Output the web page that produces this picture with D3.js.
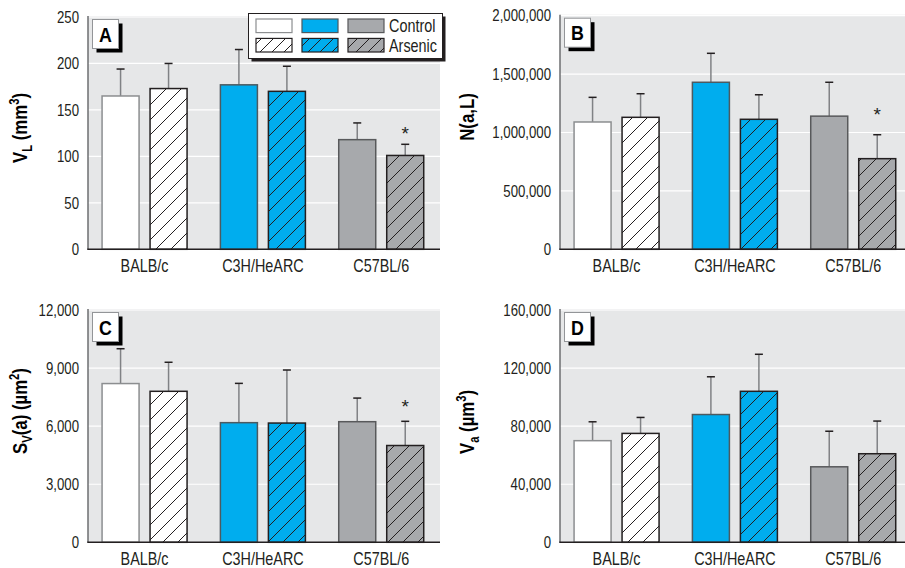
<!DOCTYPE html>
<html>
<head>
<meta charset="utf-8">
<script src="https://cdn.jsdelivr.net/npm/d3@7"></script>
<style>
  html, body { margin: 0; padding: 0; background: #fff; }
  svg { display: block; font-family: "Liberation Sans", Arial, sans-serif; }
</style>
</head>
<body>
<svg id="chart" width="905" height="568"></svg>
<script>
// Mouse strains and treatment groups
const strains = ["BALB/c", "C3H/HeARC", "C57BL/6"];
const groups = ["Control", "Arsenic"];

// A: lung volume V_L (mm^3), mean and SD per strain
const vlControl = [165, 177, 118];
const vlControlSD = [29, 38, 18];
const vlArsenic = [173, 170, 101];
const vlArsenicSD = [27, 27, 12];
const vlTicks = [0, 50, 100, 150, 200, 250];

// B: number of alveoli N(a,L)
const nControl = [1090000, 1430000, 1140000];
const nControlSD = [211000, 248000, 290000];
const nArsenic = [1130000, 1113000, 776000];
const nArsenicSD = [202000, 210000, 205000];
const nTicks = [0, 500000, 1000000, 1500000, 2000000];

// C: alveolar surface area S_V(a) (µm^2)
const svControl = [8200, 6180, 6230];
const svControlSD = [1800, 2030, 1220];
const svArsenic = [7800, 6160, 5000];
const svArsenicSD = [1500, 2740, 1250];
const svTicks = [0, 3000, 6000, 9000, 12000];

// D: mean alveolar volume V_a (µm^3)
const vaControl = [70000, 88000, 52000];
const vaControlSD = [13000, 26000, 24500];
const vaArsenic = [75000, 104000, 61000];
const vaArsenicSD = [11000, 25500, 22500];
const vaTicks = [0, 40000, 80000, 120000, 160000];

// Significant arsenic effect (*), per panel and strain
const sigA = [false, false, true];
const sigB = [false, false, true];
const sigC = [false, false, true];
const sigD = [false, false, false];

const strainFill = { "BALB/c": "#ffffff", "C3H/HeARC": "#00adee", "C57BL/6": "#a7a9ac" };
const strainEdge = { "BALB/c": "#8c8e90", "C3H/HeARC": "#4d5a60", "C57BL/6": "#58595b" };

const svg = d3.select("#chart");
const fmt = d3.format(",");
const SX = 0.8; // horizontal squeeze for a condensed look

// Move a text's x/y into a transform and squeeze it horizontally
function narrow(sel, sx = SX, extra = "") {
  sel.each(function () {
    const t = d3.select(this);
    const x = +t.attr("x") || 0, y = +t.attr("y") || 0;
    t.attr("x", 0).attr("y", 0)
      .attr("transform", `translate(${x},${y}) ${extra} scale(${sx},1)`);
  });
}

// Hatching patterns (one per strain colour)
const defs = svg.append("defs");
strains.forEach((s, i) => {
  const p = defs.append("pattern")
    .attr("id", "hatch" + i)
    .attr("patternUnits", "userSpaceOnUse")
    .attr("width", 15).attr("height", 15);
  p.append("rect").attr("width", 15).attr("height", 15).attr("fill", strainFill[s]);
  p.append("path")
    .attr("d", "M-1,16 L16,-1 M-4,4 L4,-4 M11,19 L19,11")
    .attr("stroke", "#231f20").attr("stroke-width", 1);
});
strains.forEach((s, i) => {
  const p = defs.append("pattern")
    .attr("id", "lhatch" + i)
    .attr("patternUnits", "userSpaceOnUse")
    .attr("width", 12).attr("height", 12);
  p.append("rect").attr("width", 12).attr("height", 12).attr("fill", strainFill[s]);
  p.append("path")
    .attr("d", "M-1,13 L13,-1 M-3,3 L3,-3 M9,15 L15,9")
    .attr("stroke", "#231f20").attr("stroke-width", 1);
});

const panels = [
  { key: "A", ctrl: vlControl, ctrlSD: vlControlSD, ars: vlArsenic, arsSD: vlArsenicSD, ticks: vlTicks, sig: sigA,
    left: 88, right: 440, top: 17, bottom: 249.3, titleX: 27, titleY: 128, starGap: 4,
    title: [{ t: "V" }, { t: "L", sub: true }, { t: " (mm" }, { t: "3", sup: true }, { t: ")" }] },
  { key: "B", ctrl: nControl, ctrlSD: nControlSD, ars: nArsenic, arsSD: nArsenicSD, ticks: nTicks, sig: sigB,
    left: 560, right: 905, top: 15.7, bottom: 249.3, titleX: 474, titleY: 117, starGap: 14,
    title: [{ t: "N(a,L)" }] },
  { key: "C", ctrl: svControl, ctrlSD: svControlSD, ars: svArsenic, arsSD: svArsenicSD, ticks: svTicks, sig: sigC,
    left: 88, right: 440, top: 310, bottom: 542.3, titleX: 27, titleY: 411, starGap: 8,
    title: [{ t: "S" }, { t: "V", sub: true }, { t: "(a) (µm" }, { t: "2", sup: true }, { t: ")" }] },
  { key: "D", ctrl: vaControl, ctrlSD: vaControlSD, ars: vaArsenic, arsSD: vaArsenicSD, ticks: vaTicks, sig: sigD,
    left: 560, right: 905, top: 310, bottom: 542.3, titleX: 474, titleY: 422, starGap: 6,
    title: [{ t: "V" }, { t: "a", sub: true }, { t: " (µm" }, { t: "3", sup: true }, { t: ")" }] }
];

panels.forEach(P => {
  const g = svg.append("g");
  const y = d3.scaleLinear().domain([0, d3.max(P.ticks)]).range([P.bottom, P.top]);
  const x = d3.scaleBand().domain(strains).range([P.left - 2.6, P.left - 2.6 + 355]).padding(0);
  const xi = d3.scaleBand().domain(groups).range([-42.5, 42.5]).paddingInner(0.229).paddingOuter(0);

  // plot background
  g.append("rect")
    .attr("x", P.left).attr("y", P.top - 1)
    .attr("width", P.right - P.left).attr("height", P.bottom - P.top + 1)
    .attr("fill", "#e6e7e8");

  // white gridlines
  g.selectAll(".grid").data(P.ticks.slice(1)).join("line")
    .attr("x1", P.left).attr("x2", P.right)
    .attr("y1", d => y(d)).attr("y2", d => y(d))
    .attr("stroke", "#ffffff").attr("stroke-width", 1.2);

  // y axis
  const yAxis = d3.axisLeft(y).tickValues(P.ticks).tickFormat(fmt).tickSize(0).tickPadding(9);
  const ya = g.append("g").attr("transform", `translate(${P.left},0)`).call(yAxis);
  ya.select(".domain").remove();
  ya.attr("font-family", null).attr("font-size", null);
  ya.selectAll("text").attr("font-size", 16.5).attr("fill", "#231f20").call(narrow);

  // x axis labels
  const xAxis = d3.axisBottom(x).tickSize(0).tickPadding(10);
  const xa = g.append("g").attr("transform", `translate(0,${P.bottom})`).call(xAxis);
  xa.select(".domain").remove();
  xa.attr("font-family", null).attr("font-size", null);
  xa.selectAll("text").attr("font-size", 18).attr("fill", "#231f20").call(narrow);

  // bars
  const rows = [];
  strains.forEach((s, i) => {
    rows.push({ s, i, grp: "Control", v: P.ctrl[i], sd: P.ctrlSD[i], sig: false });
    rows.push({ s, i, grp: "Arsenic", v: P.ars[i], sd: P.arsSD[i], sig: P.sig[i] });
  });
  const bx = d => x(d.s) + x.bandwidth() / 2 + xi(d.grp);
  const cx = d => bx(d) + xi.bandwidth() / 2;

  // error bars (upper only)
  g.selectAll(".err").data(rows).join("line")
    .attr("x1", cx).attr("x2", cx)
    .attr("y1", d => y(d.v)).attr("y2", d => y(d.v + d.sd))
    .attr("stroke", "#808285").attr("stroke-width", 1.5);
  g.selectAll(".cap").data(rows).join("line")
    .attr("x1", d => cx(d) - 4).attr("x2", d => cx(d) + 4)
    .attr("y1", d => y(d.v + d.sd)).attr("y2", d => y(d.v + d.sd))
    .attr("stroke", "#231f20").attr("stroke-width", 1.5);

  g.selectAll(".bar").data(rows).join("rect")
    .attr("x", bx).attr("width", xi.bandwidth())
    .attr("y", d => y(d.v)).attr("height", d => P.bottom - y(d.v))
    .attr("fill", d => d.grp === "Control" ? strainFill[d.s] : `url(#hatch${d.i})`)
    .attr("stroke", d => d.grp === "Control" ? strainEdge[d.s] : "#231f20")
    .attr("stroke-width", 1.5);

  // significance markers
  g.selectAll(".sig").data(rows.filter(d => d.sig)).join("text")
    .attr("x", cx).attr("y", d => y(d.v + d.sd) - P.starGap)
    .attr("text-anchor", "middle").attr("font-size", 19).attr("fill", "#231f20")
    .text("*");

  // axis lines
  g.append("line").attr("x1", P.left).attr("x2", P.left)
    .attr("y1", P.top - 1).attr("y2", P.bottom)
    .attr("stroke", "#6d6e71").attr("stroke-width", 1.5);
  g.append("line").attr("x1", P.left - 0.75).attr("x2", P.right)
    .attr("y1", P.bottom).attr("y2", P.bottom)
    .attr("stroke", "#231f20").attr("stroke-width", 1.5);

  // panel letter box with drop shadow
  const lx = P.left + 4.5, ly = P.top + 2.5;
  g.append("rect").attr("x", lx + 4).attr("y", ly + 4).attr("width", 26).attr("height", 29).attr("fill", "#000");
  g.append("rect").attr("x", lx).attr("y", ly).attr("width", 26).attr("height", 29)
    .attr("fill", "#fff").attr("stroke", "#939598").attr("stroke-width", 1);
  g.append("text").attr("x", lx + 13).attr("y", ly + 22)
    .attr("text-anchor", "middle").attr("font-size", 21).attr("font-weight", "bold")
    .attr("fill", "#000").text(P.key).call(narrow, 0.85);

  // y axis title
  const t = g.append("text")
    .attr("x", P.titleX).attr("y", P.titleY)
    .attr("text-anchor", "middle").attr("font-size", 21).attr("font-weight", "bold").attr("fill", "#000");
  let shift = 0;
  P.title.forEach(part => {
    const ts = t.append("tspan").text(part.t);
    if (part.sub) { ts.attr("dy", 5).attr("font-size", 14); shift = 5; }
    else if (part.sup) { ts.attr("dy", -8 - shift).attr("font-size", 14); shift = -8; }
    else if (shift !== 0) { ts.attr("dy", -shift); shift = 0; }
  });
  t.call(narrow, SX, "rotate(-90)");
});

// legend
const lg = svg.append("g");
const L = { x: 248.5, y: 13.5, w: 194, h: 45 };
lg.append("rect").attr("x", L.x + 3).attr("y", L.y + 3).attr("width", L.w).attr("height", L.h).attr("fill", "#231f20");
lg.append("rect").attr("x", L.x).attr("y", L.y).attr("width", L.w).attr("height", L.h)
  .attr("fill", "#fff").attr("stroke", "#231f20").attr("stroke-width", 1);
const swX = d3.scaleBand().domain(strains).range([256, 384]).paddingInner(0.217).paddingOuter(0);
const swY = d3.scaleBand().domain(groups).range([19, 52]).paddingInner(0.3);
groups.forEach(grp => {
  strains.forEach((s, i) => {
    lg.append("rect")
      .attr("x", swX(s)).attr("y", swY(grp))
      .attr("width", swX.bandwidth()).attr("height", swY.bandwidth())
      .attr("fill", grp === "Control" ? strainFill[s] : `url(#lhatch${i})`)
      .attr("stroke", grp === "Control" ? strainEdge[s] : "#231f20")
      .attr("stroke-width", 1.2);
  });
  lg.append("text").attr("x", 389).attr("y", swY(grp) + swY.bandwidth() - 0.5)
    .attr("font-size", 18).attr("fill", "#231f20").text(grp).call(narrow);
});
</script>
</body>
</html>
